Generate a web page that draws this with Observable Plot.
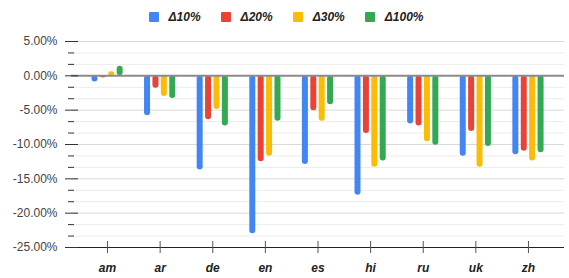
<!DOCTYPE html>
<html>
<head>
<meta charset="utf-8">
<script src="https://cdn.jsdelivr.net/npm/d3@7"></script>
<script src="https://cdn.jsdelivr.net/npm/@observablehq/plot@0.6"></script>
<style>
  body { margin: 0; background: #fff; font-family: "Liberation Sans", Arial, sans-serif; }
  #legend { height: 30px; display: flex; justify-content: center; align-items: center; padding-left: 3px; box-sizing: border-box; padding-top: 4px; }
  .item { display: flex; align-items: center; margin-right: 20px; font-size: 12px; font-weight: bold; font-style: italic; color: #222; }
  .item:last-child { margin-right: 0; }
  .sw { width: 10px; height: 10px; margin-right: 10px; border-radius: 1px; }
</style>
</head>
<body>
<div id="legend"></div>
<div id="chart"></div>
<script>
const categories = ["am", "ar", "de", "en", "es", "hi", "ru", "uk", "zh"];
const seriesNames = ["Δ10%", "Δ20%", "Δ30%", "Δ100%"];
const seriesColors = ["#4285F4", "#EA4335", "#FBBC04", "#34A853"];
const d10  = [-0.9, -5.8, -13.7, -23.0, -12.9, -17.4, -7.0, -11.7, -11.5];
const d20  = [-0.3, -1.8, -6.4, -12.5, -5.1, -8.4, -7.3, -8.1, -11.0];
const d30  = [0.6, -3.0, -4.9, -11.7, -6.6, -13.3, -9.6, -13.3, -12.4];
const d100 = [1.4, -3.3, -7.3, -6.6, -4.2, -12.4, -10.1, -10.3, -11.2];
const yMajorTicks = [5, 0, -5, -10, -15, -20, -25];

const seriesValues = [d10, d20, d30, d100];
const data = [];
seriesValues.forEach((vals, k) => {
  vals.forEach((v, i) => data.push({cat: categories[i], series: seriesNames[k], k, value: v}));
});
const yMinorTicks = d3.range(0, 19).map(i => -25 + i * 5 / 3).filter((v, i) => i % 3 !== 0);

// legend
const legend = document.getElementById("legend");
seriesNames.forEach((n, k) => {
  const it = document.createElement("div");
  it.className = "item";
  it.innerHTML = `<span class="sw" style="background:${seriesColors[k]}"></span><span>${n}</span>`;
  legend.appendChild(it);
});

const width = 569, height = 248, marginLeft = 71, marginRight = 5;
const paddingOuter = 0.185;
const step = (width - marginLeft - marginRight) / (categories.length + 2 * paddingOuter);
const barW = 6, barGap = 8.4;
const inset = (step - barW) / 2;

const barMarks = seriesNames.map((n, k) =>
  Plot.barY(data.filter(d => d.k === k), {
    x: "cat", y: "value", fill: seriesColors[k],
    dx: (k - 1.5) * barGap, insetLeft: inset, insetRight: inset, rx: 3
  })
);

const chart = Plot.plot({
  width, height,
  marginLeft, marginRight, marginTop: 11, marginBottom: 31,
  style: {fontFamily: "'Liberation Sans', Arial, sans-serif", fontSize: "12px", background: "#fff"},
  x: {domain: categories, paddingInner: 0, paddingOuter, round: false, axis: null, label: null},
  y: {domain: [-25, 5], axis: null, label: null},
  marks: [
    Plot.ruleY(yMinorTicks, {stroke: "#ebebeb", strokeWidth: 1}),
    Plot.ruleY(yMajorTicks.filter(v => v !== 0 && v !== -25), {stroke: "#d9d9d9", strokeWidth: 1}),
    ...barMarks,
    Plot.ruleY([0], {stroke: "#8a8a8a", strokeWidth: 2}),
    Plot.ruleY([-25], {stroke: "#222", strokeWidth: 1, insetLeft: -5}),
    Plot.ruleX([0], {frameAnchor: "left", stroke: "#333", strokeWidth: 1, y1: 5, y2: -25}),
    Plot.axisY({ticks: yMajorTicks, tickSize: 13, dx: 7, text: null, stroke: "#333", label: null}),
    Plot.axisY({ticks: yMinorTicks, tickSize: 6, dx: 3, text: null, stroke: "#333", label: null}),
    Plot.axisY({ticks: yMajorTicks, tickSize: 0, tickPadding: 14, tickFormat: d => d.toFixed(2) + "%", fill: "#444", fontSize: 12, label: null}),
    Plot.axisX({tickSize: 12, dy: -6, text: null, stroke: "#555", label: null}),
    Plot.axisX({tickSize: 0, tickPadding: 16, fontWeight: "bold", fontStyle: "italic", fill: "#222", fontSize: 12, label: null})
  ]
});
document.getElementById("chart").appendChild(chart);
</script>
</body>
</html>
